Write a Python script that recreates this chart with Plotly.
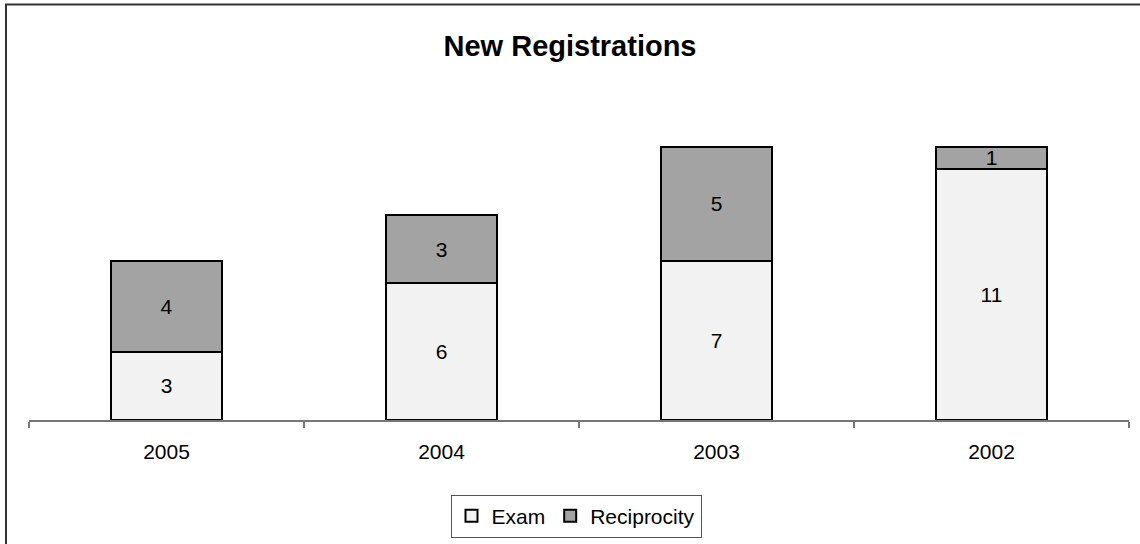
import plotly.graph_objects as go

years = ["2005", "2004", "2003", "2002"]
exam = [3, 6, 7, 11]
reciprocity = [4, 3, 5, 1]

W, H = 1140, 544
L, R, T, B = 29, 11, 101, 124
pw, ph = W - L - R, H - T - B

def px_x(p):
    return (p - L) / pw

def px_y(p):
    return (H - B - p) / ph

FONT = "Arial, Liberation Sans, sans-serif"

fig = go.Figure()
fig.add_trace(go.Bar(
    x=years, y=exam, name="Exam", text=[str(v) for v in exam],
    textposition="inside", insidetextanchor="middle", constraintext="none", textangle=0,
    marker=dict(color="#F2F2F2", line=dict(color="black", width=2)),
    textfont=dict(family=FONT, size=21, color="black"),
))
fig.add_trace(go.Bar(
    x=years, y=reciprocity, name="Reciprocity", text=[str(v) for v in reciprocity],
    textposition="inside", insidetextanchor="middle", constraintext="none", textangle=0,
    marker=dict(color="#A3A3A3", line=dict(color="black", width=2)),
    textfont=dict(family=FONT, size=21, color="black"),
))

fig.update_layout(
    width=W, height=H, barmode="stack", bargap=0.593,
    margin=dict(l=L, r=R, t=T, b=B, autoexpand=False),
    paper_bgcolor="white", plot_bgcolor="white",
    font=dict(family=FONT, size=21, color="black"),
    title=dict(text="<b>New Registrations</b>", x=0.5, xanchor="center",
               y=1 - 46 / H, yanchor="middle",
               font=dict(family=FONT, size=29, color="black")),
    showlegend=True,
    legend=dict(orientation="h", x=px_x(576), xanchor="center", y=px_y(516), yanchor="middle",
                bordercolor="#555", borderwidth=1, bgcolor="white",
                font=dict(family=FONT, size=21), traceorder="normal", itemwidth=30),
    xaxis=dict(type="category", range=[-0.5, 3.5], showline=True, linecolor="#777",
               linewidth=1.5, ticks="outside", tickson="boundaries", ticklen=6,
               tickcolor="#777", tickwidth=1.5, showgrid=False, zeroline=False,
               ticklabelstandoff=12, tickfont=dict(family=FONT, size=21)),
    yaxis=dict(visible=False, range=[0, 14], showgrid=False, zeroline=False),
    shapes=[dict(type="rect", xref="paper", yref="paper",
                 x0=px_x(6), y0=px_y(548), x1=px_x(1144), y1=px_y(4.5),
                 line=dict(color="#333", width=2), fillcolor="rgba(0,0,0,0)", layer="above")],
)

fig.write_html("out.html", config={"displayModeBar": False},
               post_script="document.body.style.margin='0';document.body.style.overflow='hidden';")
